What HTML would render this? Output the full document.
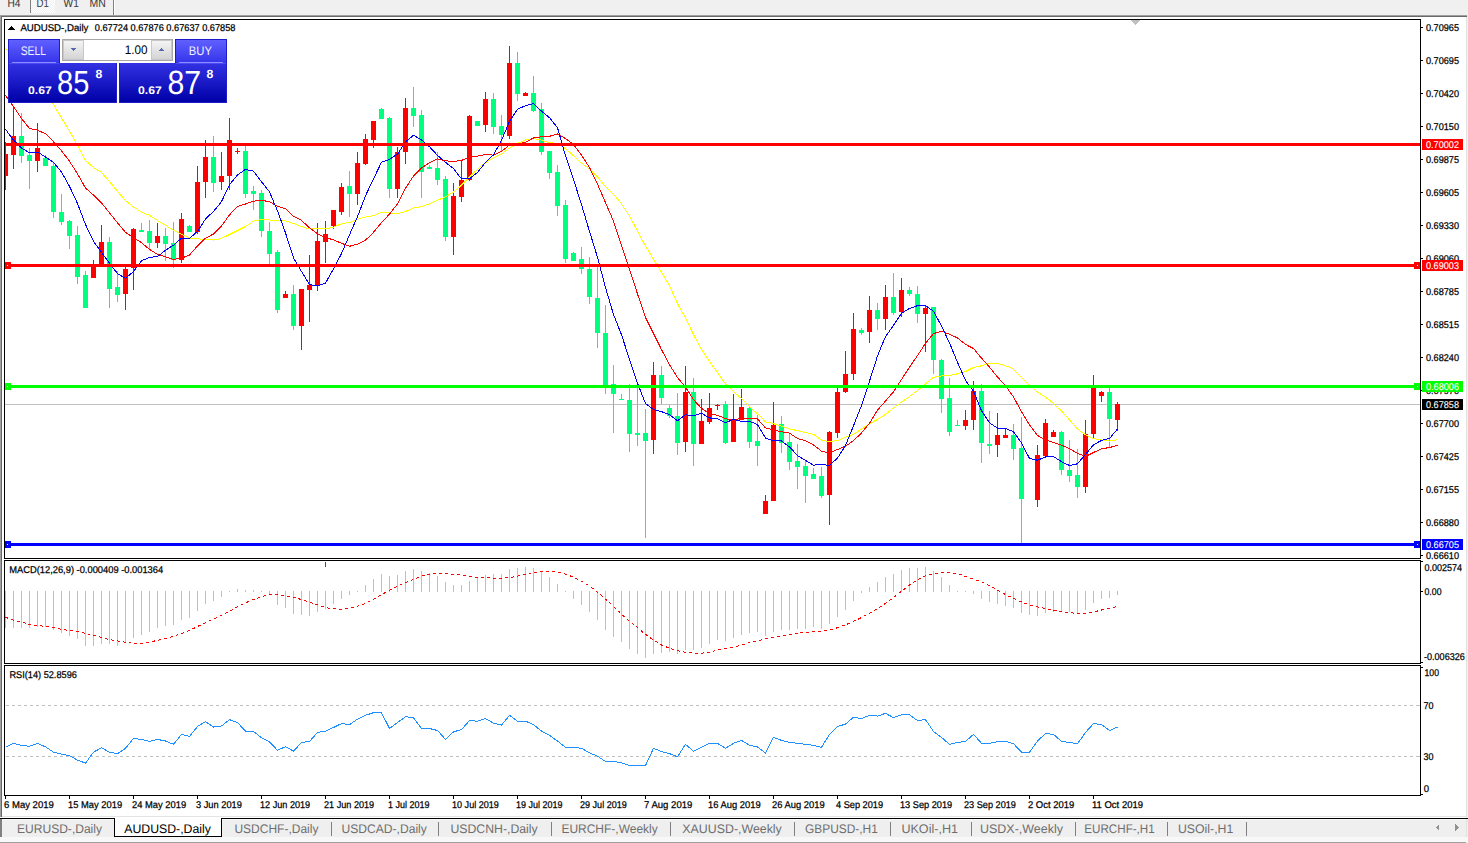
<!DOCTYPE html>
<html><head><meta charset="utf-8"><title>AUDUSD-,Daily</title>
<style>
html,body{margin:0;padding:0;background:#f0f0f0;overflow:hidden;}
svg{display:block;font-family:"Liberation Sans",sans-serif;text-rendering:geometricPrecision;}
</style></head>
<body>
<svg width="1468" height="843" viewBox="0 0 1468 843" shape-rendering="crispEdges">
<defs>
<pattern id="checker" x="0" y="0" width="2" height="2" patternUnits="userSpaceOnUse"><rect width="2" height="2" fill="#f0f0f0"/><rect width="1" height="1" fill="#ffffff"/><rect x="1" y="1" width="1" height="1" fill="#ffffff"/></pattern>
<pattern id="dash" x="6" y="0" width="6" height="1" patternUnits="userSpaceOnUse"><rect width="3" height="1" fill="#c0c0c0"/></pattern>
<clipPath id="clipMain"><rect x="5" y="20" width="1415" height="538"/></clipPath>
</defs>
<rect x="0" y="0" width="1468" height="843" fill="#f0f0f0"/>
<rect x="31" y="0" width="24" height="13" fill="url(#checker)"/>
<rect x="30" y="0" width="1" height="13" fill="#808080"/>
<rect x="113" y="0" width="1" height="15" fill="#808080"/>
<rect x="114" y="0" width="1" height="15" fill="#ffffff"/>
<text x="7.5" y="7" font-size="11.5" fill="#383838" textLength="13.00" lengthAdjust="spacingAndGlyphs">H4</text>
<text x="36.5" y="7" font-size="11.5" fill="#383838" textLength="12.30" lengthAdjust="spacingAndGlyphs">D1</text>
<text x="63.5" y="7" font-size="11.5" fill="#383838" textLength="15.30" lengthAdjust="spacingAndGlyphs">W1</text>
<text x="89.5" y="7" font-size="11.5" fill="#383838" textLength="16.30" lengthAdjust="spacingAndGlyphs">MN</text>
<rect x="0" y="15" width="1467" height="1" fill="#a0a0a0"/>
<rect x="1" y="16" width="1466" height="1" fill="#696969"/>
<rect x="0" y="15" width="1" height="802" fill="#a0a0a0"/>
<rect x="1" y="16" width="1" height="801" fill="#696969"/>
<rect x="2" y="17" width="1464" height="799" fill="#ffffff"/>
<rect x="1466" y="17" width="1" height="800" fill="#e3e3e3"/>
<rect x="2" y="816" width="1465" height="1" fill="#e3e3e3"/>
<g clip-path="url(#clipMain)">
<rect x="5" y="404" width="1415" height="1" fill="#c0c0c0"/>
<rect x="5" y="142" width="1" height="48" fill="#ff0000"/>
<rect x="3" y="154" width="5" height="22" fill="#ff0000"/>
<rect x="13" y="106" width="1" height="63" fill="#ff0000"/>
<rect x="11" y="136" width="5" height="19" fill="#ff0000"/>
<rect x="21" y="113" width="1" height="50" fill="#00ff7f"/>
<rect x="19" y="136" width="5" height="20" fill="#00ff7f"/>
<rect x="29" y="148" width="1" height="41" fill="#00ff7f"/>
<rect x="27" y="155" width="5" height="6" fill="#00ff7f"/>
<rect x="37" y="123" width="1" height="49" fill="#ff0000"/>
<rect x="35" y="148" width="5" height="13" fill="#ff0000"/>
<rect x="45" y="155" width="1" height="11" fill="#00ff7f"/>
<rect x="43" y="158" width="5" height="8" fill="#00ff7f"/>
<rect x="53" y="163" width="1" height="55" fill="#00ff7f"/>
<rect x="51" y="166" width="5" height="46" fill="#00ff7f"/>
<rect x="61" y="194" width="1" height="31" fill="#00ff7f"/>
<rect x="59" y="212" width="5" height="10" fill="#00ff7f"/>
<rect x="69" y="220" width="1" height="29" fill="#00ff7f"/>
<rect x="67" y="221" width="5" height="15" fill="#00ff7f"/>
<rect x="77" y="226" width="1" height="58" fill="#00ff7f"/>
<rect x="75" y="235" width="5" height="42" fill="#00ff7f"/>
<rect x="85" y="271" width="1" height="37" fill="#00ff7f"/>
<rect x="83" y="275" width="5" height="33" fill="#00ff7f"/>
<rect x="93" y="260" width="1" height="18" fill="#ff0000"/>
<rect x="91" y="266" width="5" height="12" fill="#ff0000"/>
<rect x="101" y="225" width="1" height="42" fill="#ff0000"/>
<rect x="99" y="242" width="5" height="25" fill="#ff0000"/>
<rect x="109" y="237" width="1" height="71" fill="#00ff7f"/>
<rect x="107" y="242" width="5" height="47" fill="#00ff7f"/>
<rect x="117" y="271" width="1" height="31" fill="#00ff7f"/>
<rect x="115" y="287" width="5" height="8" fill="#00ff7f"/>
<rect x="125" y="267" width="1" height="43" fill="#ff0000"/>
<rect x="123" y="269" width="5" height="25" fill="#ff0000"/>
<rect x="133" y="228" width="1" height="62" fill="#ff0000"/>
<rect x="131" y="229" width="5" height="39" fill="#ff0000"/>
<rect x="141" y="223" width="1" height="9" fill="#00ff7f"/>
<rect x="139" y="230" width="5" height="2" fill="#00ff7f"/>
<rect x="149" y="220" width="1" height="30" fill="#00ff7f"/>
<rect x="147" y="231" width="5" height="12" fill="#00ff7f"/>
<rect x="157" y="223" width="1" height="25" fill="#ff0000"/>
<rect x="155" y="236" width="5" height="7" fill="#ff0000"/>
<rect x="165" y="228" width="1" height="33" fill="#00ff7f"/>
<rect x="163" y="236" width="5" height="8" fill="#00ff7f"/>
<rect x="173" y="222" width="1" height="46" fill="#00ff7f"/>
<rect x="171" y="243" width="5" height="17" fill="#00ff7f"/>
<rect x="181" y="213" width="1" height="50" fill="#ff0000"/>
<rect x="179" y="219" width="5" height="41" fill="#ff0000"/>
<rect x="189" y="225" width="1" height="7" fill="#00ff7f"/>
<rect x="187" y="226" width="5" height="6" fill="#00ff7f"/>
<rect x="197" y="166" width="1" height="68" fill="#ff0000"/>
<rect x="195" y="182" width="5" height="50" fill="#ff0000"/>
<rect x="205" y="140" width="1" height="58" fill="#ff0000"/>
<rect x="203" y="157" width="5" height="25" fill="#ff0000"/>
<rect x="213" y="136" width="1" height="56" fill="#00ff7f"/>
<rect x="211" y="157" width="5" height="26" fill="#00ff7f"/>
<rect x="221" y="152" width="1" height="38" fill="#ff0000"/>
<rect x="219" y="176" width="5" height="6" fill="#ff0000"/>
<rect x="229" y="118" width="1" height="72" fill="#ff0000"/>
<rect x="227" y="140" width="5" height="36" fill="#ff0000"/>
<rect x="237" y="148" width="1" height="6" fill="#ff0000"/>
<rect x="235" y="151" width="5" height="1" fill="#ff0000"/>
<rect x="245" y="146" width="1" height="52" fill="#00ff7f"/>
<rect x="243" y="151" width="5" height="43" fill="#00ff7f"/>
<rect x="253" y="186" width="1" height="24" fill="#00ff7f"/>
<rect x="251" y="191" width="5" height="3" fill="#00ff7f"/>
<rect x="261" y="190" width="1" height="47" fill="#00ff7f"/>
<rect x="259" y="193" width="5" height="38" fill="#00ff7f"/>
<rect x="269" y="222" width="1" height="42" fill="#00ff7f"/>
<rect x="267" y="231" width="5" height="23" fill="#00ff7f"/>
<rect x="277" y="250" width="1" height="63" fill="#00ff7f"/>
<rect x="275" y="252" width="5" height="58" fill="#00ff7f"/>
<rect x="285" y="291" width="1" height="7" fill="#ff0000"/>
<rect x="283" y="294" width="5" height="4" fill="#ff0000"/>
<rect x="293" y="285" width="1" height="45" fill="#00ff7f"/>
<rect x="291" y="294" width="5" height="32" fill="#00ff7f"/>
<rect x="301" y="289" width="1" height="61" fill="#ff0000"/>
<rect x="299" y="289" width="5" height="37" fill="#ff0000"/>
<rect x="309" y="255" width="1" height="67" fill="#ff0000"/>
<rect x="307" y="285" width="5" height="5" fill="#ff0000"/>
<rect x="317" y="223" width="1" height="68" fill="#ff0000"/>
<rect x="315" y="241" width="5" height="44" fill="#ff0000"/>
<rect x="325" y="221" width="1" height="42" fill="#ff0000"/>
<rect x="323" y="234" width="5" height="8" fill="#ff0000"/>
<rect x="333" y="210" width="1" height="19" fill="#ff0000"/>
<rect x="331" y="210" width="5" height="16" fill="#ff0000"/>
<rect x="341" y="183" width="1" height="32" fill="#ff0000"/>
<rect x="339" y="187" width="5" height="25" fill="#ff0000"/>
<rect x="349" y="171" width="1" height="46" fill="#00ff7f"/>
<rect x="347" y="186" width="5" height="8" fill="#00ff7f"/>
<rect x="357" y="152" width="1" height="53" fill="#ff0000"/>
<rect x="355" y="163" width="5" height="31" fill="#ff0000"/>
<rect x="365" y="134" width="1" height="31" fill="#ff0000"/>
<rect x="363" y="139" width="5" height="25" fill="#ff0000"/>
<rect x="373" y="121" width="1" height="27" fill="#ff0000"/>
<rect x="371" y="121" width="5" height="19" fill="#ff0000"/>
<rect x="381" y="108" width="1" height="11" fill="#00ff7f"/>
<rect x="379" y="109" width="5" height="10" fill="#00ff7f"/>
<rect x="389" y="117" width="1" height="81" fill="#00ff7f"/>
<rect x="387" y="118" width="5" height="71" fill="#00ff7f"/>
<rect x="397" y="147" width="1" height="51" fill="#ff0000"/>
<rect x="395" y="152" width="5" height="37" fill="#ff0000"/>
<rect x="405" y="98" width="1" height="66" fill="#ff0000"/>
<rect x="403" y="108" width="5" height="44" fill="#ff0000"/>
<rect x="413" y="87" width="1" height="40" fill="#00ff7f"/>
<rect x="411" y="108" width="5" height="8" fill="#00ff7f"/>
<rect x="421" y="110" width="1" height="88" fill="#00ff7f"/>
<rect x="419" y="115" width="5" height="57" fill="#00ff7f"/>
<rect x="429" y="165" width="1" height="4" fill="#00ff7f"/>
<rect x="427" y="167" width="5" height="2" fill="#00ff7f"/>
<rect x="437" y="152" width="1" height="33" fill="#00ff7f"/>
<rect x="435" y="168" width="5" height="12" fill="#00ff7f"/>
<rect x="445" y="176" width="1" height="65" fill="#00ff7f"/>
<rect x="443" y="179" width="5" height="58" fill="#00ff7f"/>
<rect x="453" y="183" width="1" height="72" fill="#ff0000"/>
<rect x="451" y="196" width="5" height="41" fill="#ff0000"/>
<rect x="461" y="160" width="1" height="42" fill="#ff0000"/>
<rect x="459" y="180" width="5" height="17" fill="#ff0000"/>
<rect x="469" y="115" width="1" height="66" fill="#ff0000"/>
<rect x="467" y="116" width="5" height="64" fill="#ff0000"/>
<rect x="477" y="121" width="1" height="5" fill="#00ff7f"/>
<rect x="475" y="121" width="5" height="5" fill="#00ff7f"/>
<rect x="485" y="92" width="1" height="40" fill="#ff0000"/>
<rect x="483" y="99" width="5" height="26" fill="#ff0000"/>
<rect x="493" y="93" width="1" height="41" fill="#00ff7f"/>
<rect x="491" y="99" width="5" height="28" fill="#00ff7f"/>
<rect x="501" y="115" width="1" height="36" fill="#00ff7f"/>
<rect x="499" y="126" width="5" height="9" fill="#00ff7f"/>
<rect x="509" y="46" width="1" height="93" fill="#ff0000"/>
<rect x="507" y="63" width="5" height="73" fill="#ff0000"/>
<rect x="517" y="52" width="1" height="49" fill="#00ff7f"/>
<rect x="515" y="63" width="5" height="31" fill="#00ff7f"/>
<rect x="525" y="92" width="1" height="4" fill="#ff0000"/>
<rect x="523" y="93" width="5" height="3" fill="#ff0000"/>
<rect x="533" y="76" width="1" height="36" fill="#00ff7f"/>
<rect x="531" y="93" width="5" height="18" fill="#00ff7f"/>
<rect x="541" y="103" width="1" height="52" fill="#00ff7f"/>
<rect x="539" y="109" width="5" height="43" fill="#00ff7f"/>
<rect x="549" y="151" width="1" height="28" fill="#00ff7f"/>
<rect x="547" y="151" width="5" height="22" fill="#00ff7f"/>
<rect x="557" y="165" width="1" height="51" fill="#00ff7f"/>
<rect x="555" y="172" width="5" height="34" fill="#00ff7f"/>
<rect x="565" y="200" width="1" height="63" fill="#00ff7f"/>
<rect x="563" y="205" width="5" height="54" fill="#00ff7f"/>
<rect x="573" y="252" width="1" height="9" fill="#00ff7f"/>
<rect x="571" y="253" width="5" height="8" fill="#00ff7f"/>
<rect x="581" y="247" width="1" height="27" fill="#00ff7f"/>
<rect x="579" y="259" width="5" height="10" fill="#00ff7f"/>
<rect x="589" y="257" width="1" height="47" fill="#00ff7f"/>
<rect x="587" y="269" width="5" height="28" fill="#00ff7f"/>
<rect x="597" y="266" width="1" height="82" fill="#00ff7f"/>
<rect x="595" y="298" width="5" height="35" fill="#00ff7f"/>
<rect x="605" y="305" width="1" height="89" fill="#00ff7f"/>
<rect x="603" y="333" width="5" height="52" fill="#00ff7f"/>
<rect x="613" y="365" width="1" height="68" fill="#00ff7f"/>
<rect x="611" y="384" width="5" height="10" fill="#00ff7f"/>
<rect x="621" y="394" width="1" height="6" fill="#00ff7f"/>
<rect x="619" y="399" width="5" height="1" fill="#00ff7f"/>
<rect x="629" y="384" width="1" height="68" fill="#00ff7f"/>
<rect x="627" y="400" width="5" height="34" fill="#00ff7f"/>
<rect x="637" y="388" width="1" height="58" fill="#00ff7f"/>
<rect x="635" y="433" width="5" height="2" fill="#00ff7f"/>
<rect x="645" y="409" width="1" height="129" fill="#00ff7f"/>
<rect x="643" y="433" width="5" height="8" fill="#00ff7f"/>
<rect x="653" y="362" width="1" height="92" fill="#ff0000"/>
<rect x="651" y="375" width="5" height="65" fill="#ff0000"/>
<rect x="661" y="366" width="1" height="38" fill="#00ff7f"/>
<rect x="659" y="375" width="5" height="23" fill="#00ff7f"/>
<rect x="669" y="405" width="1" height="13" fill="#00ff7f"/>
<rect x="667" y="408" width="5" height="8" fill="#00ff7f"/>
<rect x="677" y="393" width="1" height="62" fill="#00ff7f"/>
<rect x="675" y="416" width="5" height="27" fill="#00ff7f"/>
<rect x="685" y="366" width="1" height="86" fill="#ff0000"/>
<rect x="683" y="392" width="5" height="50" fill="#ff0000"/>
<rect x="693" y="378" width="1" height="88" fill="#00ff7f"/>
<rect x="691" y="392" width="5" height="52" fill="#00ff7f"/>
<rect x="701" y="399" width="1" height="45" fill="#ff0000"/>
<rect x="699" y="421" width="5" height="23" fill="#ff0000"/>
<rect x="709" y="393" width="1" height="31" fill="#ff0000"/>
<rect x="707" y="408" width="5" height="14" fill="#ff0000"/>
<rect x="717" y="404" width="1" height="6" fill="#ff0000"/>
<rect x="715" y="405" width="5" height="1" fill="#ff0000"/>
<rect x="725" y="401" width="1" height="43" fill="#00ff7f"/>
<rect x="723" y="404" width="5" height="39" fill="#00ff7f"/>
<rect x="733" y="394" width="1" height="48" fill="#ff0000"/>
<rect x="731" y="420" width="5" height="22" fill="#ff0000"/>
<rect x="741" y="389" width="1" height="31" fill="#ff0000"/>
<rect x="739" y="407" width="5" height="13" fill="#ff0000"/>
<rect x="749" y="407" width="1" height="41" fill="#00ff7f"/>
<rect x="747" y="408" width="5" height="34" fill="#00ff7f"/>
<rect x="757" y="415" width="1" height="51" fill="#00ff7f"/>
<rect x="755" y="441" width="5" height="5" fill="#00ff7f"/>
<rect x="765" y="495" width="1" height="19" fill="#ff0000"/>
<rect x="763" y="501" width="5" height="13" fill="#ff0000"/>
<rect x="773" y="402" width="1" height="99" fill="#ff0000"/>
<rect x="771" y="425" width="5" height="76" fill="#ff0000"/>
<rect x="781" y="416" width="1" height="37" fill="#00ff7f"/>
<rect x="779" y="424" width="5" height="19" fill="#00ff7f"/>
<rect x="789" y="434" width="1" height="36" fill="#00ff7f"/>
<rect x="787" y="442" width="5" height="20" fill="#00ff7f"/>
<rect x="797" y="444" width="1" height="45" fill="#00ff7f"/>
<rect x="795" y="461" width="5" height="6" fill="#00ff7f"/>
<rect x="805" y="461" width="1" height="42" fill="#00ff7f"/>
<rect x="803" y="466" width="5" height="10" fill="#00ff7f"/>
<rect x="813" y="468" width="1" height="11" fill="#00ff7f"/>
<rect x="811" y="474" width="5" height="5" fill="#00ff7f"/>
<rect x="821" y="467" width="1" height="31" fill="#00ff7f"/>
<rect x="819" y="476" width="5" height="20" fill="#00ff7f"/>
<rect x="829" y="431" width="1" height="94" fill="#ff0000"/>
<rect x="827" y="432" width="5" height="63" fill="#ff0000"/>
<rect x="837" y="388" width="1" height="50" fill="#ff0000"/>
<rect x="835" y="392" width="5" height="41" fill="#ff0000"/>
<rect x="845" y="351" width="1" height="42" fill="#ff0000"/>
<rect x="843" y="374" width="5" height="18" fill="#ff0000"/>
<rect x="853" y="313" width="1" height="67" fill="#ff0000"/>
<rect x="851" y="329" width="5" height="45" fill="#ff0000"/>
<rect x="861" y="328" width="1" height="7" fill="#00ff7f"/>
<rect x="859" y="330" width="5" height="3" fill="#00ff7f"/>
<rect x="869" y="296" width="1" height="47" fill="#ff0000"/>
<rect x="867" y="310" width="5" height="22" fill="#ff0000"/>
<rect x="877" y="303" width="1" height="27" fill="#00ff7f"/>
<rect x="875" y="310" width="5" height="9" fill="#00ff7f"/>
<rect x="885" y="285" width="1" height="45" fill="#ff0000"/>
<rect x="883" y="297" width="5" height="22" fill="#ff0000"/>
<rect x="893" y="273" width="1" height="42" fill="#00ff7f"/>
<rect x="891" y="297" width="5" height="16" fill="#00ff7f"/>
<rect x="901" y="278" width="1" height="39" fill="#ff0000"/>
<rect x="899" y="290" width="5" height="22" fill="#ff0000"/>
<rect x="909" y="287" width="1" height="9" fill="#00ff7f"/>
<rect x="907" y="290" width="5" height="4" fill="#00ff7f"/>
<rect x="917" y="286" width="1" height="37" fill="#00ff7f"/>
<rect x="915" y="294" width="5" height="20" fill="#00ff7f"/>
<rect x="925" y="305" width="1" height="47" fill="#ff0000"/>
<rect x="923" y="308" width="5" height="6" fill="#ff0000"/>
<rect x="933" y="307" width="1" height="67" fill="#00ff7f"/>
<rect x="931" y="307" width="5" height="53" fill="#00ff7f"/>
<rect x="941" y="359" width="1" height="54" fill="#00ff7f"/>
<rect x="939" y="360" width="5" height="39" fill="#00ff7f"/>
<rect x="949" y="378" width="1" height="58" fill="#00ff7f"/>
<rect x="947" y="398" width="5" height="34" fill="#00ff7f"/>
<rect x="957" y="420" width="1" height="6" fill="#00ff7f"/>
<rect x="955" y="425" width="5" height="1" fill="#00ff7f"/>
<rect x="965" y="410" width="1" height="20" fill="#ff0000"/>
<rect x="963" y="420" width="5" height="6" fill="#ff0000"/>
<rect x="973" y="381" width="1" height="49" fill="#ff0000"/>
<rect x="971" y="391" width="5" height="29" fill="#ff0000"/>
<rect x="981" y="384" width="1" height="79" fill="#00ff7f"/>
<rect x="979" y="391" width="5" height="52" fill="#00ff7f"/>
<rect x="989" y="411" width="1" height="43" fill="#00ff7f"/>
<rect x="987" y="444" width="5" height="2" fill="#00ff7f"/>
<rect x="997" y="413" width="1" height="44" fill="#ff0000"/>
<rect x="995" y="435" width="5" height="10" fill="#ff0000"/>
<rect x="1005" y="429" width="1" height="9" fill="#ff0000"/>
<rect x="1003" y="435" width="5" height="3" fill="#ff0000"/>
<rect x="1013" y="424" width="1" height="36" fill="#00ff7f"/>
<rect x="1011" y="435" width="5" height="14" fill="#00ff7f"/>
<rect x="1021" y="417" width="1" height="127" fill="#00ff7f"/>
<rect x="1019" y="448" width="5" height="51" fill="#00ff7f"/>
<rect x="1037" y="445" width="1" height="62" fill="#ff0000"/>
<rect x="1035" y="455" width="5" height="45" fill="#ff0000"/>
<rect x="1045" y="419" width="1" height="37" fill="#ff0000"/>
<rect x="1043" y="423" width="5" height="33" fill="#ff0000"/>
<rect x="1053" y="430" width="1" height="7" fill="#ff0000"/>
<rect x="1051" y="432" width="5" height="5" fill="#ff0000"/>
<rect x="1061" y="431" width="1" height="44" fill="#00ff7f"/>
<rect x="1059" y="432" width="5" height="38" fill="#00ff7f"/>
<rect x="1069" y="440" width="1" height="42" fill="#00ff7f"/>
<rect x="1067" y="470" width="5" height="6" fill="#00ff7f"/>
<rect x="1077" y="449" width="1" height="49" fill="#00ff7f"/>
<rect x="1075" y="475" width="5" height="12" fill="#00ff7f"/>
<rect x="1085" y="420" width="1" height="73" fill="#ff0000"/>
<rect x="1083" y="434" width="5" height="53" fill="#ff0000"/>
<rect x="1093" y="375" width="1" height="63" fill="#ff0000"/>
<rect x="1091" y="388" width="5" height="46" fill="#ff0000"/>
<rect x="1101" y="391" width="1" height="11" fill="#ff0000"/>
<rect x="1099" y="392" width="5" height="4" fill="#ff0000"/>
<rect x="1109" y="388" width="1" height="59" fill="#00ff7f"/>
<rect x="1107" y="392" width="5" height="27" fill="#00ff7f"/>
<rect x="1117" y="402" width="1" height="29" fill="#ff0000"/>
<rect x="1115" y="404" width="5" height="16" fill="#ff0000"/>
<polyline points="5.5,48.1 53.5,104.5 61.5,118.0 69.5,131.1 77.5,145.3 85.5,160.5 93.5,167.5 101.5,172.5 109.5,181.5 117.5,191.5 125.5,200.5 133.5,207.0 141.5,212.0 149.5,215.3 157.5,220.5 165.5,225.2 173.5,230.3 181.5,234.3 189.5,237.9 197.5,238.9 205.5,239.3 213.5,240.1 221.5,238.4 229.5,234.5 237.5,230.5 245.5,226.5 253.5,221.1 261.5,219.4 269.5,219.9 277.5,220.9 285.5,220.9 293.5,223.6 301.5,226.5 309.5,229.0 317.5,228.9 325.5,228.8 333.5,227.2 341.5,223.7 349.5,222.5 357.5,219.2 365.5,217.2 373.5,215.5 381.5,212.4 389.5,213.0 397.5,213.6 405.5,211.5 413.5,207.8 421.5,206.7 429.5,203.8 437.5,200.3 445.5,196.8 453.5,192.1 461.5,185.2 469.5,176.9 477.5,169.4 485.5,162.6 493.5,157.5 501.5,154.0 509.5,148.1 517.5,143.3 525.5,140.0 533.5,138.6 541.5,140.1 549.5,142.7 557.5,143.4 565.5,148.6 573.5,155.8 581.5,163.1 589.5,169.1 597.5,177.0 605.5,186.7 613.5,194.2 621.5,203.9 629.5,216.0 637.5,231.2 645.5,246.2 653.5,259.3 661.5,272.3 669.5,285.6 677.5,303.7 685.5,317.9 693.5,334.6 701.5,349.4 709.5,361.6 717.5,372.6 725.5,383.9 733.5,391.6 741.5,398.6 749.5,406.8 757.5,413.8 765.5,421.8 773.5,423.7 781.5,426.1 789.5,429.0 797.5,430.6 805.5,432.5 813.5,434.3 821.5,440.1 829.5,441.7 837.5,440.5 845.5,437.3 853.5,434.3 861.5,429.0 869.5,423.7 877.5,419.5 885.5,414.3 893.5,408.1 901.5,402.0 909.5,396.6 917.5,390.5 925.5,383.9 933.5,377.2 941.5,376.0 949.5,375.5 957.5,373.8 965.5,371.5 973.5,367.5 981.5,365.8 989.5,363.4 997.5,363.5 1005.5,365.6 1013.5,369.2 1021.5,377.3 1029.5,385.2 1037.5,392.1 1045.5,397.1 1053.5,403.5 1061.5,411.0 1069.5,419.9 1077.5,429.1 1085.5,434.8 1093.5,438.6 1101.5,440.1 1109.5,441.1 1117.5,439.7" fill="none" stroke="#ffff00" stroke-width="1"/>
<polyline points="5.5,95.5 13.5,106.5 21.5,118.5 29.5,128.5 37.5,130.2 45.5,133.8 53.5,141.8 61.5,150.7 69.5,161.3 77.5,173.8 85.5,188.0 93.5,195.1 101.5,203.0 109.5,212.8 117.5,222.9 125.5,232.3 133.5,237.6 141.5,242.7 149.5,249.4 157.5,254.4 165.5,256.7 173.5,259.4 181.5,258.2 189.5,255.0 197.5,246.0 205.5,238.2 213.5,234.0 221.5,226.0 229.5,214.9 237.5,206.5 245.5,204.0 253.5,201.2 261.5,200.4 269.5,201.6 277.5,206.3 285.5,208.7 293.5,216.3 301.5,220.4 309.5,227.8 317.5,233.8 325.5,237.5 333.5,239.9 341.5,243.2 349.5,246.3 357.5,244.1 365.5,240.2 373.5,232.3 381.5,222.7 389.5,214.0 397.5,203.9 405.5,188.3 413.5,176.0 421.5,167.9 429.5,162.7 437.5,158.8 445.5,160.8 453.5,161.4 461.5,160.4 469.5,157.1 477.5,156.1 485.5,154.6 493.5,155.1 501.5,151.3 509.5,145.0 517.5,144.0 525.5,142.3 533.5,138.0 541.5,136.8 549.5,136.3 557.5,134.0 565.5,138.5 573.5,144.3 581.5,155.2 589.5,167.5 597.5,184.2 605.5,202.6 613.5,221.1 621.5,245.2 629.5,269.5 637.5,293.9 645.5,317.5 653.5,333.4 661.5,349.6 669.5,364.6 677.5,377.7 685.5,387.1 693.5,399.6 701.5,408.4 709.5,413.7 717.5,415.2 725.5,418.7 733.5,420.1 741.5,418.1 749.5,418.6 757.5,419.0 765.5,427.9 773.5,429.8 781.5,431.8 789.5,433.1 797.5,438.5 805.5,440.8 813.5,444.9 821.5,451.2 829.5,453.1 837.5,449.5 845.5,446.2 853.5,440.7 861.5,432.9 869.5,423.2 877.5,410.2 885.5,401.0 893.5,391.8 901.5,379.5 909.5,367.1 917.5,355.6 925.5,343.3 933.5,333.6 941.5,331.2 949.5,334.2 957.5,337.9 965.5,344.4 973.5,348.5 981.5,358.1 989.5,367.1 997.5,377.0 1005.5,385.7 1013.5,397.0 1021.5,411.7 1029.5,424.9 1037.5,435.5 1045.5,440.0 1053.5,442.4 1061.5,445.1 1069.5,448.6 1077.5,453.4 1085.5,456.5 1093.5,452.5 1101.5,448.7 1109.5,447.6 1117.5,445.3" fill="none" stroke="#ff0000" stroke-width="1"/>
<polyline points="5.5,129.3 13.5,140.0 21.5,148.0 29.5,152.8 37.5,152.1 45.5,156.9 53.5,162.4 61.5,172.1 69.5,186.3 77.5,203.5 85.5,224.5 93.5,241.4 101.5,252.3 109.5,263.2 117.5,273.6 125.5,278.4 133.5,271.6 141.5,260.8 149.5,257.4 157.5,256.6 165.5,250.2 173.5,245.2 181.5,238.1 189.5,238.5 197.5,231.3 205.5,219.0 213.5,211.4 221.5,201.7 229.5,184.6 237.5,174.9 245.5,169.4 253.5,171.1 261.5,181.7 269.5,191.9 277.5,210.9 285.5,232.9 293.5,257.8 301.5,271.5 309.5,284.5 317.5,285.9 325.5,283.1 333.5,268.8 341.5,253.6 349.5,234.8 357.5,216.7 365.5,195.8 373.5,178.8 381.5,162.3 389.5,159.3 397.5,154.2 405.5,141.9 413.5,135.2 421.5,139.9 429.5,146.7 437.5,155.4 445.5,162.3 453.5,168.6 461.5,178.9 469.5,178.9 477.5,172.4 485.5,162.4 493.5,154.9 501.5,140.4 509.5,121.3 517.5,109.1 525.5,105.8 533.5,103.6 541.5,111.1 549.5,117.7 557.5,127.7 565.5,155.8 573.5,179.5 581.5,204.7 589.5,231.4 597.5,257.3 605.5,287.6 613.5,314.5 621.5,334.7 629.5,359.4 637.5,383.1 645.5,403.6 653.5,409.6 661.5,411.6 669.5,414.7 677.5,420.7 685.5,414.7 693.5,416.0 701.5,413.2 709.5,417.9 717.5,418.8 725.5,422.6 733.5,419.4 741.5,421.5 749.5,421.2 757.5,424.7 765.5,438.0 773.5,440.9 781.5,440.9 789.5,446.9 797.5,455.5 805.5,460.4 813.5,465.1 821.5,464.5 829.5,465.4 837.5,458.1 845.5,445.5 853.5,425.8 861.5,405.4 869.5,381.2 877.5,355.9 885.5,336.6 893.5,325.4 901.5,313.4 909.5,308.4 917.5,305.7 925.5,305.5 933.5,311.3 941.5,325.9 949.5,342.9 957.5,362.4 965.5,380.4 973.5,391.3 981.5,410.7 989.5,422.9 997.5,428.1 1005.5,428.5 1013.5,431.7 1021.5,443.0 1029.5,458.5 1037.5,460.2 1045.5,457.0 1053.5,456.6 1061.5,461.7 1069.5,465.5 1077.5,463.8 1085.5,454.4 1093.5,444.8 1101.5,440.4 1109.5,438.5 1117.5,429.0" fill="none" stroke="#0000ff" stroke-width="1"/>
</g>
<rect x="5" y="143" width="1415" height="3" fill="#ff0000"/>
<rect x="5" y="264" width="1415" height="3" fill="#ff0000"/>
<rect x="4" y="262" width="7" height="7" fill="#ff0000"/>
<rect x="7" y="265" width="1" height="1" fill="#ffffff"/>
<rect x="1414" y="262" width="7" height="7" fill="#ff0000"/>
<rect x="1417" y="265" width="1" height="1" fill="#ffffff"/>
<rect x="5" y="385" width="1415" height="3" fill="#00ff00"/>
<rect x="4" y="383" width="7" height="7" fill="#00ff00"/>
<rect x="7" y="386" width="1" height="1" fill="#ffffff"/>
<rect x="1414" y="383" width="7" height="7" fill="#00ff00"/>
<rect x="1417" y="386" width="1" height="1" fill="#ffffff"/>
<rect x="5" y="543" width="1415" height="3" fill="#0000ff"/>
<rect x="4" y="541" width="7" height="7" fill="#0000ff"/>
<rect x="7" y="544" width="1" height="1" fill="#ffffff"/>
<rect x="1414" y="541" width="7" height="7" fill="#0000ff"/>
<rect x="1417" y="544" width="1" height="1" fill="#ffffff"/>
<polygon points="1131,20 1140,20 1135.5,25" fill="#c0c0c0"/>
<polygon points="8,30 15.5,30 11.75,26" fill="#000"/>
<text x="20.4" y="31" font-size="9.8" fill="#000" stroke="#000" stroke-width="0.25" textLength="68.00" lengthAdjust="spacingAndGlyphs">AUDUSD-,Daily</text>
<text x="94.8" y="31" font-size="9.8" fill="#000" stroke="#000" stroke-width="0.25" textLength="140.60" lengthAdjust="spacingAndGlyphs">0.67724 0.67876 0.67637 0.67858</text>
<defs>
<linearGradient id="gBtn" x1="0" y1="0" x2="0" y2="1"><stop offset="0" stop-color="#6060ff"/><stop offset="1" stop-color="#3434ea"/></linearGradient>
<linearGradient id="gPan" x1="0" y1="0" x2="0" y2="1"><stop offset="0" stop-color="#3232e4"/><stop offset="1" stop-color="#0000a8"/></linearGradient>
<linearGradient id="gSpin" x1="0" y1="0" x2="0" y2="1"><stop offset="0" stop-color="#f4f4f4"/><stop offset="1" stop-color="#d4d4d4"/></linearGradient>
</defs>
<rect x="8" y="39" width="52" height="24" fill="#1c1cc8"/>
<rect x="9" y="40" width="50" height="23" fill="url(#gBtn)"/>
<rect x="8" y="63" width="109" height="40" fill="#1c1cc8"/>
<rect x="9" y="63" width="107" height="39" fill="url(#gPan)"/>
<rect x="9" y="63" width="50" height="1" fill="url(#gBtn)"/>
<rect x="12" y="62" width="44" height="1" fill="#8c8cff"/>
<rect x="175" y="39" width="52" height="24" fill="#1c1cc8"/>
<rect x="176" y="40" width="50" height="23" fill="url(#gBtn)"/>
<rect x="119" y="63" width="108" height="40" fill="#1c1cc8"/>
<rect x="120" y="63" width="106" height="39" fill="url(#gPan)"/>
<rect x="176" y="63" width="50" height="1" fill="url(#gBtn)"/>
<rect x="179" y="62" width="44" height="1" fill="#8c8cff"/>
<rect x="62" y="39" width="111" height="22" fill="#a8a8a8"/>
<rect x="63" y="40" width="109" height="20" fill="#ffffff"/>
<rect x="63" y="40" width="21" height="20" fill="#c8c8c8"/>
<rect x="64" y="41" width="19" height="18" fill="url(#gSpin)"/>
<rect x="151" y="40" width="21" height="20" fill="#c8c8c8"/>
<rect x="152" y="41" width="19" height="18" fill="url(#gSpin)"/>
<polygon points="70,48 76,48 73,51" fill="#5868b0"/>
<polygon points="158.5,51 164.5,51 161.5,48" fill="#5868b0"/>
<text x="124.7" y="54" font-size="12.5" fill="#000" textLength="22.80" lengthAdjust="spacingAndGlyphs">1.00</text>
<text x="20.7" y="55" font-size="12.5" fill="#f0f0ff" textLength="25.30" lengthAdjust="spacingAndGlyphs">SELL</text>
<text x="188.8" y="55" font-size="12.5" fill="#f0f0ff" textLength="23.20" lengthAdjust="spacingAndGlyphs">BUY</text>
<text x="28" y="94" font-size="11" fill="#fff" font-weight="bold" textLength="23.80" lengthAdjust="spacingAndGlyphs">0.67</text>
<text x="57" y="94" font-size="33.5" fill="#fff" textLength="32.30" lengthAdjust="spacingAndGlyphs">85</text>
<text x="95.4" y="78" font-size="12" fill="#fff" font-weight="bold" textLength="6.80" lengthAdjust="spacingAndGlyphs">8</text>
<text x="138" y="94" font-size="11" fill="#fff" font-weight="bold" textLength="23.80" lengthAdjust="spacingAndGlyphs">0.67</text>
<text x="167.5" y="94" font-size="33.5" fill="#fff" textLength="33.70" lengthAdjust="spacingAndGlyphs">87</text>
<text x="206.4" y="78" font-size="12" fill="#fff" font-weight="bold" textLength="6.80" lengthAdjust="spacingAndGlyphs">8</text>
<g shape-rendering="crispEdges">
<rect x="5" y="591" width="1" height="37" fill="#c0c0c0"/>
<rect x="13" y="591" width="1" height="37" fill="#c0c0c0"/>
<rect x="21" y="591" width="1" height="37" fill="#c0c0c0"/>
<rect x="29" y="591" width="1" height="37" fill="#c0c0c0"/>
<rect x="37" y="591" width="1" height="36" fill="#c0c0c0"/>
<rect x="45" y="591" width="1" height="36" fill="#c0c0c0"/>
<rect x="53" y="591" width="1" height="39" fill="#c0c0c0"/>
<rect x="61" y="591" width="1" height="42" fill="#c0c0c0"/>
<rect x="69" y="591" width="1" height="45" fill="#c0c0c0"/>
<rect x="77" y="591" width="1" height="48" fill="#c0c0c0"/>
<rect x="85" y="591" width="1" height="55" fill="#c0c0c0"/>
<rect x="93" y="591" width="1" height="55" fill="#c0c0c0"/>
<rect x="101" y="591" width="1" height="53" fill="#c0c0c0"/>
<rect x="109" y="591" width="1" height="53" fill="#c0c0c0"/>
<rect x="117" y="591" width="1" height="55" fill="#c0c0c0"/>
<rect x="125" y="591" width="1" height="51" fill="#c0c0c0"/>
<rect x="133" y="591" width="1" height="47" fill="#c0c0c0"/>
<rect x="141" y="591" width="1" height="44" fill="#c0c0c0"/>
<rect x="149" y="591" width="1" height="41" fill="#c0c0c0"/>
<rect x="157" y="591" width="1" height="37" fill="#c0c0c0"/>
<rect x="165" y="591" width="1" height="35" fill="#c0c0c0"/>
<rect x="173" y="591" width="1" height="34" fill="#c0c0c0"/>
<rect x="181" y="591" width="1" height="29" fill="#c0c0c0"/>
<rect x="189" y="591" width="1" height="27" fill="#c0c0c0"/>
<rect x="197" y="591" width="1" height="20" fill="#c0c0c0"/>
<rect x="205" y="591" width="1" height="13" fill="#c0c0c0"/>
<rect x="213" y="591" width="1" height="10" fill="#c0c0c0"/>
<rect x="221" y="591" width="1" height="6" fill="#c0c0c0"/>
<rect x="229" y="591" width="1" height="1" fill="#c0c0c0"/>
<rect x="237" y="589" width="1" height="3" fill="#c0c0c0"/>
<rect x="245" y="590" width="1" height="2" fill="#c0c0c0"/>
<rect x="253" y="590" width="1" height="2" fill="#c0c0c0"/>
<rect x="261" y="591" width="1" height="1" fill="#c0c0c0"/>
<rect x="269" y="591" width="1" height="4" fill="#c0c0c0"/>
<rect x="277" y="591" width="1" height="14" fill="#c0c0c0"/>
<rect x="285" y="591" width="1" height="17" fill="#c0c0c0"/>
<rect x="293" y="591" width="1" height="23" fill="#c0c0c0"/>
<rect x="301" y="591" width="1" height="24" fill="#c0c0c0"/>
<rect x="309" y="591" width="1" height="25" fill="#c0c0c0"/>
<rect x="317" y="591" width="1" height="21" fill="#c0c0c0"/>
<rect x="325" y="591" width="1" height="18" fill="#c0c0c0"/>
<rect x="333" y="591" width="1" height="13" fill="#c0c0c0"/>
<rect x="341" y="591" width="1" height="8" fill="#c0c0c0"/>
<rect x="349" y="591" width="1" height="4" fill="#c0c0c0"/>
<rect x="357" y="591" width="1" height="1" fill="#c0c0c0"/>
<rect x="365" y="585" width="1" height="7" fill="#c0c0c0"/>
<rect x="373" y="579" width="1" height="13" fill="#c0c0c0"/>
<rect x="381" y="574" width="1" height="18" fill="#c0c0c0"/>
<rect x="389" y="576" width="1" height="16" fill="#c0c0c0"/>
<rect x="397" y="575" width="1" height="17" fill="#c0c0c0"/>
<rect x="405" y="571" width="1" height="21" fill="#c0c0c0"/>
<rect x="413" y="569" width="1" height="23" fill="#c0c0c0"/>
<rect x="421" y="571" width="1" height="21" fill="#c0c0c0"/>
<rect x="429" y="573" width="1" height="19" fill="#c0c0c0"/>
<rect x="437" y="576" width="1" height="16" fill="#c0c0c0"/>
<rect x="445" y="582" width="1" height="10" fill="#c0c0c0"/>
<rect x="453" y="585" width="1" height="7" fill="#c0c0c0"/>
<rect x="461" y="585" width="1" height="7" fill="#c0c0c0"/>
<rect x="469" y="581" width="1" height="11" fill="#c0c0c0"/>
<rect x="477" y="578" width="1" height="14" fill="#c0c0c0"/>
<rect x="485" y="575" width="1" height="17" fill="#c0c0c0"/>
<rect x="493" y="574" width="1" height="18" fill="#c0c0c0"/>
<rect x="501" y="574" width="1" height="18" fill="#c0c0c0"/>
<rect x="509" y="569" width="1" height="23" fill="#c0c0c0"/>
<rect x="517" y="568" width="1" height="24" fill="#c0c0c0"/>
<rect x="525" y="567" width="1" height="25" fill="#c0c0c0"/>
<rect x="533" y="568" width="1" height="24" fill="#c0c0c0"/>
<rect x="541" y="571" width="1" height="21" fill="#c0c0c0"/>
<rect x="549" y="577" width="1" height="15" fill="#c0c0c0"/>
<rect x="557" y="584" width="1" height="8" fill="#c0c0c0"/>
<rect x="565" y="591" width="1" height="1" fill="#c0c0c0"/>
<rect x="573" y="591" width="1" height="8" fill="#c0c0c0"/>
<rect x="581" y="591" width="1" height="14" fill="#c0c0c0"/>
<rect x="589" y="591" width="1" height="21" fill="#c0c0c0"/>
<rect x="597" y="591" width="1" height="29" fill="#c0c0c0"/>
<rect x="605" y="591" width="1" height="39" fill="#c0c0c0"/>
<rect x="613" y="591" width="1" height="46" fill="#c0c0c0"/>
<rect x="621" y="591" width="1" height="51" fill="#c0c0c0"/>
<rect x="629" y="591" width="1" height="58" fill="#c0c0c0"/>
<rect x="637" y="591" width="1" height="63" fill="#c0c0c0"/>
<rect x="645" y="591" width="1" height="67" fill="#c0c0c0"/>
<rect x="653" y="591" width="1" height="63" fill="#c0c0c0"/>
<rect x="661" y="591" width="1" height="62" fill="#c0c0c0"/>
<rect x="669" y="591" width="1" height="61" fill="#c0c0c0"/>
<rect x="677" y="591" width="1" height="63" fill="#c0c0c0"/>
<rect x="685" y="591" width="1" height="59" fill="#c0c0c0"/>
<rect x="693" y="591" width="1" height="59" fill="#c0c0c0"/>
<rect x="701" y="591" width="1" height="57" fill="#c0c0c0"/>
<rect x="709" y="591" width="1" height="53" fill="#c0c0c0"/>
<rect x="717" y="591" width="1" height="49" fill="#c0c0c0"/>
<rect x="725" y="591" width="1" height="50" fill="#c0c0c0"/>
<rect x="733" y="591" width="1" height="47" fill="#c0c0c0"/>
<rect x="741" y="591" width="1" height="44" fill="#c0c0c0"/>
<rect x="749" y="591" width="1" height="42" fill="#c0c0c0"/>
<rect x="757" y="591" width="1" height="41" fill="#c0c0c0"/>
<rect x="765" y="591" width="1" height="45" fill="#c0c0c0"/>
<rect x="773" y="591" width="1" height="41" fill="#c0c0c0"/>
<rect x="781" y="591" width="1" height="39" fill="#c0c0c0"/>
<rect x="789" y="591" width="1" height="39" fill="#c0c0c0"/>
<rect x="797" y="591" width="1" height="38" fill="#c0c0c0"/>
<rect x="805" y="591" width="1" height="38" fill="#c0c0c0"/>
<rect x="813" y="591" width="1" height="36" fill="#c0c0c0"/>
<rect x="821" y="591" width="1" height="38" fill="#c0c0c0"/>
<rect x="829" y="591" width="1" height="33" fill="#c0c0c0"/>
<rect x="837" y="591" width="1" height="26" fill="#c0c0c0"/>
<rect x="845" y="591" width="1" height="19" fill="#c0c0c0"/>
<rect x="853" y="591" width="1" height="10" fill="#c0c0c0"/>
<rect x="861" y="591" width="1" height="2" fill="#c0c0c0"/>
<rect x="869" y="587" width="1" height="5" fill="#c0c0c0"/>
<rect x="877" y="582" width="1" height="10" fill="#c0c0c0"/>
<rect x="885" y="577" width="1" height="15" fill="#c0c0c0"/>
<rect x="893" y="574" width="1" height="18" fill="#c0c0c0"/>
<rect x="901" y="570" width="1" height="22" fill="#c0c0c0"/>
<rect x="909" y="568" width="1" height="24" fill="#c0c0c0"/>
<rect x="917" y="568" width="1" height="24" fill="#c0c0c0"/>
<rect x="925" y="567" width="1" height="25" fill="#c0c0c0"/>
<rect x="933" y="571" width="1" height="21" fill="#c0c0c0"/>
<rect x="941" y="577" width="1" height="15" fill="#c0c0c0"/>
<rect x="949" y="585" width="1" height="7" fill="#c0c0c0"/>
<rect x="957" y="591" width="1" height="1" fill="#c0c0c0"/>
<rect x="965" y="591" width="1" height="1" fill="#c0c0c0"/>
<rect x="973" y="591" width="1" height="3" fill="#c0c0c0"/>
<rect x="981" y="591" width="1" height="8" fill="#c0c0c0"/>
<rect x="989" y="591" width="1" height="11" fill="#c0c0c0"/>
<rect x="997" y="591" width="1" height="13" fill="#c0c0c0"/>
<rect x="1005" y="591" width="1" height="15" fill="#c0c0c0"/>
<rect x="1013" y="591" width="1" height="17" fill="#c0c0c0"/>
<rect x="1021" y="591" width="1" height="22" fill="#c0c0c0"/>
<rect x="1029" y="591" width="1" height="24" fill="#c0c0c0"/>
<rect x="1037" y="591" width="1" height="25" fill="#c0c0c0"/>
<rect x="1045" y="591" width="1" height="22" fill="#c0c0c0"/>
<rect x="1053" y="591" width="1" height="21" fill="#c0c0c0"/>
<rect x="1061" y="591" width="1" height="21" fill="#c0c0c0"/>
<rect x="1069" y="591" width="1" height="21" fill="#c0c0c0"/>
<rect x="1077" y="591" width="1" height="23" fill="#c0c0c0"/>
<rect x="1085" y="591" width="1" height="19" fill="#c0c0c0"/>
<rect x="1093" y="591" width="1" height="12" fill="#c0c0c0"/>
<rect x="1101" y="591" width="1" height="8" fill="#c0c0c0"/>
<rect x="1109" y="591" width="1" height="7" fill="#c0c0c0"/>
<rect x="1117" y="591" width="1" height="4" fill="#c0c0c0"/>
</g>
<polyline points="5.5,617.3 13.5,620.2 21.5,622.2 29.5,624.3 37.5,625.5 45.5,626.4 53.5,627.2 61.5,629.5 69.5,630.4 77.5,631.2 85.5,633.5 93.5,635.3 101.5,637.3 109.5,639.6 117.5,640.9 125.5,642.3 133.5,643.4 141.5,643.3 149.5,642.0 157.5,640.4 165.5,638.3 173.5,636.3 181.5,633.5 189.5,630.4 197.5,626.5 205.5,622.7 213.5,619.0 221.5,615.4 229.5,611.2 237.5,606.8 245.5,602.8 253.5,599.5 261.5,596.6 269.5,594.9 277.5,594.4 285.5,595.9 293.5,597.2 301.5,599.6 309.5,602.1 317.5,604.9 325.5,607.5 333.5,608.9 341.5,609.3 349.5,608.2 357.5,606.3 365.5,603.3 373.5,599.3 381.5,594.8 389.5,590.2 397.5,586.2 405.5,582.6 413.5,579.6 421.5,576.1 429.5,574.2 437.5,573.3 445.5,573.2 453.5,574.5 461.5,575.1 469.5,576.2 477.5,577.4 485.5,577.4 493.5,578.4 501.5,578.2 509.5,577.5 517.5,576.2 525.5,574.3 533.5,572.5 541.5,571.4 549.5,571.4 557.5,572.1 565.5,574.2 573.5,577.1 581.5,581.3 589.5,585.9 597.5,592.2 605.5,599.2 613.5,606.4 621.5,614.1 629.5,621.2 637.5,627.6 645.5,634.4 653.5,640.0 661.5,645.0 669.5,648.2 677.5,650.8 685.5,652.2 693.5,653.2 701.5,653.2 709.5,652.3 717.5,650.0 725.5,648.7 733.5,647.4 741.5,645.0 749.5,642.7 757.5,641.2 765.5,638.7 773.5,637.6 781.5,636.3 789.5,634.6 797.5,633.1 805.5,632.2 813.5,631.9 821.5,631.5 829.5,630.1 837.5,627.7 845.5,624.9 853.5,621.4 861.5,617.5 869.5,613.2 877.5,608.6 885.5,603.3 893.5,597.5 901.5,591.2 909.5,585.1 917.5,579.7 925.5,575.7 933.5,573.5 941.5,572.6 949.5,572.7 957.5,573.6 965.5,576.4 973.5,579.1 981.5,581.9 989.5,585.6 997.5,590.1 1005.5,594.6 1013.5,598.5 1021.5,601.9 1029.5,604.9 1037.5,606.9 1045.5,608.5 1053.5,610.0 1061.5,611.4 1069.5,612.7 1077.5,613.4 1085.5,613.2 1093.5,612.0 1101.5,610.0 1109.5,608.5 1117.5,606.3" fill="none" stroke="#ff0000" stroke-width="1" stroke-dasharray="3,3" shape-rendering="crispEdges"/>
<rect x="325" y="562" width="1" height="5" fill="#ff0000"/>
<text x="9.2" y="573" font-size="9.8" fill="#000" stroke="#000" stroke-width="0.25" textLength="154.00" lengthAdjust="spacingAndGlyphs">MACD(12,26,9) -0.000409 -0.001364</text>
<g shape-rendering="crispEdges">
<rect x="5" y="705" width="1415" height="1" fill="url(#dash)"/>
<rect x="5" y="756" width="1415" height="1" fill="url(#dash)"/>
</g>
<polyline points="5.5,747.3 13.5,743.3 21.5,745.3 29.5,746.3 37.5,743.3 45.5,746.9 53.5,752.2 61.5,754.2 69.5,755.6 77.5,760.1 85.5,763.1 93.5,752.2 101.5,747.7 109.5,752.2 117.5,753.6 125.5,748.3 133.5,738.4 141.5,739.4 149.5,741.4 157.5,739.4 165.5,741.0 173.5,744.3 181.5,734.4 189.5,736.4 197.5,726.5 205.5,721.6 213.5,727.1 221.5,726.0 229.5,719.6 237.5,722.6 245.5,731.1 253.5,731.5 261.5,737.8 269.5,741.8 277.5,750.3 285.5,746.6 293.5,751.2 301.5,742.4 309.5,741.4 317.5,732.5 325.5,731.1 333.5,727.5 341.5,723.6 349.5,724.6 357.5,719.2 365.5,715.3 373.5,712.7 381.5,712.7 389.5,728.5 397.5,722.6 405.5,716.7 413.5,717.7 421.5,728.5 429.5,728.5 437.5,730.5 445.5,739.4 453.5,731.9 461.5,729.5 469.5,720.6 477.5,721.2 485.5,718.6 493.5,723.2 501.5,725.2 509.5,715.3 517.5,721.2 525.5,721.2 533.5,724.6 541.5,731.1 549.5,735.4 557.5,741.0 565.5,747.3 573.5,747.3 581.5,748.3 589.5,752.8 597.5,756.2 605.5,761.5 613.5,761.5 621.5,762.7 629.5,765.5 637.5,765.5 645.5,765.5 653.5,748.3 661.5,751.6 669.5,753.6 677.5,756.8 685.5,744.3 693.5,751.2 701.5,747.3 709.5,743.3 717.5,743.3 725.5,748.3 733.5,743.3 741.5,740.4 749.5,745.3 757.5,746.9 765.5,753.2 773.5,737.4 781.5,740.4 789.5,742.4 797.5,743.3 805.5,744.3 813.5,745.3 821.5,747.3 829.5,734.4 837.5,726.5 845.5,724.1 853.5,717.3 861.5,718.6 869.5,715.3 877.5,716.1 885.5,713.3 893.5,717.7 901.5,714.7 909.5,714.7 917.5,720.6 925.5,719.6 933.5,731.5 941.5,737.4 949.5,744.3 957.5,742.4 965.5,741.4 973.5,734.4 981.5,743.3 989.5,743.3 997.5,741.8 1005.5,741.4 1013.5,743.7 1021.5,752.2 1029.5,752.2 1037.5,741.0 1045.5,733.5 1053.5,734.4 1061.5,741.4 1069.5,742.4 1077.5,743.7 1085.5,732.5 1093.5,723.6 1101.5,724.6 1109.5,730.5 1117.5,727.1" fill="none" stroke="#1e90ff" stroke-width="1" shape-rendering="crispEdges"/>
<text x="9.4" y="678" font-size="9.8" fill="#000" stroke="#000" stroke-width="0.25" textLength="67.50" lengthAdjust="spacingAndGlyphs">RSI(14) 52.8596</text>
<rect x="4" y="19" width="1417" height="1" fill="#000"/>
<rect x="4" y="558" width="1417" height="1" fill="#000"/>
<rect x="4" y="19" width="1" height="540" fill="#000"/>
<rect x="1420" y="19" width="1" height="540" fill="#000"/>
<rect x="4" y="560" width="1417" height="1" fill="#000"/>
<rect x="4" y="663" width="1417" height="1" fill="#000"/>
<rect x="4" y="560" width="1" height="104" fill="#000"/>
<rect x="1420" y="560" width="1" height="104" fill="#000"/>
<rect x="4" y="665" width="1417" height="1" fill="#000"/>
<rect x="4" y="795" width="1417" height="1" fill="#000"/>
<rect x="4" y="665" width="1" height="131" fill="#000"/>
<rect x="1420" y="665" width="1" height="131" fill="#000"/>
<rect x="1421" y="27" width="2" height="1" fill="#000"/>
<text x="1426" y="31" font-size="9.8" fill="#000" stroke="#000" stroke-width="0.25" textLength="33.00" lengthAdjust="spacingAndGlyphs">0.70965</text>
<rect x="1421" y="60" width="2" height="1" fill="#000"/>
<text x="1426" y="64" font-size="9.8" fill="#000" stroke="#000" stroke-width="0.25" textLength="33.00" lengthAdjust="spacingAndGlyphs">0.70695</text>
<rect x="1421" y="93" width="2" height="1" fill="#000"/>
<text x="1426" y="97" font-size="9.8" fill="#000" stroke="#000" stroke-width="0.25" textLength="33.00" lengthAdjust="spacingAndGlyphs">0.70420</text>
<rect x="1421" y="126" width="2" height="1" fill="#000"/>
<text x="1426" y="130" font-size="9.8" fill="#000" stroke="#000" stroke-width="0.25" textLength="33.00" lengthAdjust="spacingAndGlyphs">0.70150</text>
<rect x="1421" y="159" width="2" height="1" fill="#000"/>
<text x="1426" y="163" font-size="9.8" fill="#000" stroke="#000" stroke-width="0.25" textLength="33.00" lengthAdjust="spacingAndGlyphs">0.69875</text>
<rect x="1421" y="192" width="2" height="1" fill="#000"/>
<text x="1426" y="196" font-size="9.8" fill="#000" stroke="#000" stroke-width="0.25" textLength="33.00" lengthAdjust="spacingAndGlyphs">0.69605</text>
<rect x="1421" y="225" width="2" height="1" fill="#000"/>
<text x="1426" y="229" font-size="9.8" fill="#000" stroke="#000" stroke-width="0.25" textLength="33.00" lengthAdjust="spacingAndGlyphs">0.69330</text>
<rect x="1421" y="258" width="2" height="1" fill="#000"/>
<text x="1426" y="262" font-size="9.8" fill="#000" stroke="#000" stroke-width="0.25" textLength="33.00" lengthAdjust="spacingAndGlyphs">0.69060</text>
<rect x="1421" y="291" width="2" height="1" fill="#000"/>
<text x="1426" y="295" font-size="9.8" fill="#000" stroke="#000" stroke-width="0.25" textLength="33.00" lengthAdjust="spacingAndGlyphs">0.68785</text>
<rect x="1421" y="324" width="2" height="1" fill="#000"/>
<text x="1426" y="328" font-size="9.8" fill="#000" stroke="#000" stroke-width="0.25" textLength="33.00" lengthAdjust="spacingAndGlyphs">0.68515</text>
<rect x="1421" y="357" width="2" height="1" fill="#000"/>
<text x="1426" y="361" font-size="9.8" fill="#000" stroke="#000" stroke-width="0.25" textLength="33.00" lengthAdjust="spacingAndGlyphs">0.68240</text>
<rect x="1421" y="390" width="2" height="1" fill="#000"/>
<text x="1426" y="394" font-size="9.8" fill="#000" stroke="#000" stroke-width="0.25" textLength="33.00" lengthAdjust="spacingAndGlyphs">0.67970</text>
<rect x="1421" y="423" width="2" height="1" fill="#000"/>
<text x="1426" y="427" font-size="9.8" fill="#000" stroke="#000" stroke-width="0.25" textLength="33.00" lengthAdjust="spacingAndGlyphs">0.67700</text>
<rect x="1421" y="456" width="2" height="1" fill="#000"/>
<text x="1426" y="460" font-size="9.8" fill="#000" stroke="#000" stroke-width="0.25" textLength="33.00" lengthAdjust="spacingAndGlyphs">0.67425</text>
<rect x="1421" y="489" width="2" height="1" fill="#000"/>
<text x="1426" y="493" font-size="9.8" fill="#000" stroke="#000" stroke-width="0.25" textLength="33.00" lengthAdjust="spacingAndGlyphs">0.67155</text>
<rect x="1421" y="522" width="2" height="1" fill="#000"/>
<text x="1426" y="526" font-size="9.8" fill="#000" stroke="#000" stroke-width="0.25" textLength="33.00" lengthAdjust="spacingAndGlyphs">0.66880</text>
<rect x="1421" y="555" width="2" height="1" fill="#000"/>
<text x="1426" y="559" font-size="9.8" fill="#000" stroke="#000" stroke-width="0.25" textLength="33.00" lengthAdjust="spacingAndGlyphs">0.66610</text>
<rect x="1422" y="139" width="41" height="11" fill="#ff0000"/>
<text x="1426" y="148" font-size="9.8" fill="#fff" stroke="#fff" stroke-width="0.1" textLength="33.00" lengthAdjust="spacingAndGlyphs">0.70002</text>
<rect x="1422" y="260" width="41" height="11" fill="#ff0000"/>
<text x="1426" y="269" font-size="9.8" fill="#fff" stroke="#fff" stroke-width="0.1" textLength="33.00" lengthAdjust="spacingAndGlyphs">0.69003</text>
<rect x="1422" y="381" width="41" height="11" fill="#00ff00"/>
<text x="1426" y="390" font-size="9.8" fill="#fff" stroke="#fff" stroke-width="0.1" textLength="33.00" lengthAdjust="spacingAndGlyphs">0.68006</text>
<rect x="1422" y="399" width="41" height="11" fill="#000000"/>
<text x="1426" y="408" font-size="9.8" fill="#fff" stroke="#fff" stroke-width="0.1" textLength="33.00" lengthAdjust="spacingAndGlyphs">0.67858</text>
<rect x="1422" y="539" width="41" height="11" fill="#0000ff"/>
<text x="1426" y="548" font-size="9.8" fill="#fff" stroke="#fff" stroke-width="0.1" textLength="33.00" lengthAdjust="spacingAndGlyphs">0.66705</text>
<rect x="1421" y="591" width="2" height="1" fill="#000"/>
<text x="1424.5" y="571" font-size="9.8" fill="#000" stroke="#000" stroke-width="0.25" textLength="37.50" lengthAdjust="spacingAndGlyphs">0.002574</text>
<text x="1424.5" y="595" font-size="9.8" fill="#000" stroke="#000" stroke-width="0.25" textLength="17.00" lengthAdjust="spacingAndGlyphs">0.00</text>
<text x="1424" y="660" font-size="9.8" fill="#000" stroke="#000" stroke-width="0.25" textLength="40.80" lengthAdjust="spacingAndGlyphs">-0.006326</text>
<rect x="1421" y="561" width="2" height="1" fill="#000"/>
<rect x="1421" y="662" width="2" height="1" fill="#000"/>
<text x="1424.5" y="676" font-size="9.8" fill="#000" stroke="#000" stroke-width="0.25" textLength="14.50" lengthAdjust="spacingAndGlyphs">100</text>
<text x="1423.5" y="709" font-size="9.8" fill="#000" stroke="#000" stroke-width="0.25" textLength="10.00" lengthAdjust="spacingAndGlyphs">70</text>
<text x="1423.5" y="760" font-size="9.8" fill="#000" stroke="#000" stroke-width="0.25" textLength="10.00" lengthAdjust="spacingAndGlyphs">30</text>
<text x="1423.7" y="792" font-size="9.8" fill="#000" stroke="#000" stroke-width="0.25" textLength="5.30" lengthAdjust="spacingAndGlyphs">0</text>
<rect x="1416" y="705" width="4" height="1" fill="#c0c0c0"/>
<rect x="1416" y="756" width="4" height="1" fill="#c0c0c0"/>
<rect x="1421" y="667" width="2" height="1" fill="#000"/>
<rect x="1421" y="794" width="2" height="1" fill="#000"/>
<rect x="5" y="796" width="1" height="3" fill="#000"/>
<text x="4.0" y="808" font-size="9.8" fill="#000" stroke="#000" stroke-width="0.25" textLength="49.80" lengthAdjust="spacingAndGlyphs">6 May 2019</text>
<rect x="69" y="796" width="1" height="3" fill="#000"/>
<text x="68.0" y="808" font-size="9.8" fill="#000" stroke="#000" stroke-width="0.25" textLength="54.10" lengthAdjust="spacingAndGlyphs">15 May 2019</text>
<rect x="133" y="796" width="1" height="3" fill="#000"/>
<text x="132.0" y="808" font-size="9.8" fill="#000" stroke="#000" stroke-width="0.25" textLength="54.10" lengthAdjust="spacingAndGlyphs">24 May 2019</text>
<rect x="197" y="796" width="1" height="3" fill="#000"/>
<text x="196.0" y="808" font-size="9.8" fill="#000" stroke="#000" stroke-width="0.25" textLength="45.90" lengthAdjust="spacingAndGlyphs">3 Jun 2019</text>
<rect x="261" y="796" width="1" height="3" fill="#000"/>
<text x="260.0" y="808" font-size="9.8" fill="#000" stroke="#000" stroke-width="0.25" textLength="50.20" lengthAdjust="spacingAndGlyphs">12 Jun 2019</text>
<rect x="325" y="796" width="1" height="3" fill="#000"/>
<text x="324.0" y="808" font-size="9.8" fill="#000" stroke="#000" stroke-width="0.25" textLength="50.20" lengthAdjust="spacingAndGlyphs">21 Jun 2019</text>
<rect x="389" y="796" width="1" height="3" fill="#000"/>
<text x="388.0" y="808" font-size="9.8" fill="#000" stroke="#000" stroke-width="0.25" textLength="41.50" lengthAdjust="spacingAndGlyphs">1 Jul 2019</text>
<rect x="453" y="796" width="1" height="3" fill="#000"/>
<text x="452.0" y="808" font-size="9.8" fill="#000" stroke="#000" stroke-width="0.25" textLength="46.90" lengthAdjust="spacingAndGlyphs">10 Jul 2019</text>
<rect x="517" y="796" width="1" height="3" fill="#000"/>
<text x="516.0" y="808" font-size="9.8" fill="#000" stroke="#000" stroke-width="0.25" textLength="46.40" lengthAdjust="spacingAndGlyphs">19 Jul 2019</text>
<rect x="581" y="796" width="1" height="3" fill="#000"/>
<text x="580.0" y="808" font-size="9.8" fill="#000" stroke="#000" stroke-width="0.25" textLength="46.80" lengthAdjust="spacingAndGlyphs">29 Jul 2019</text>
<rect x="645" y="796" width="1" height="3" fill="#000"/>
<text x="644.0" y="808" font-size="9.8" fill="#000" stroke="#000" stroke-width="0.25" textLength="48.30" lengthAdjust="spacingAndGlyphs">7 Aug 2019</text>
<rect x="709" y="796" width="1" height="3" fill="#000"/>
<text x="708.0" y="808" font-size="9.8" fill="#000" stroke="#000" stroke-width="0.25" textLength="52.70" lengthAdjust="spacingAndGlyphs">16 Aug 2019</text>
<rect x="773" y="796" width="1" height="3" fill="#000"/>
<text x="772.0" y="808" font-size="9.8" fill="#000" stroke="#000" stroke-width="0.25" textLength="52.70" lengthAdjust="spacingAndGlyphs">26 Aug 2019</text>
<rect x="837" y="796" width="1" height="3" fill="#000"/>
<text x="836.0" y="808" font-size="9.8" fill="#000" stroke="#000" stroke-width="0.25" textLength="47.10" lengthAdjust="spacingAndGlyphs">4 Sep 2019</text>
<rect x="901" y="796" width="1" height="3" fill="#000"/>
<text x="900.0" y="808" font-size="9.8" fill="#000" stroke="#000" stroke-width="0.25" textLength="52.20" lengthAdjust="spacingAndGlyphs">13 Sep 2019</text>
<rect x="965" y="796" width="1" height="3" fill="#000"/>
<text x="964.0" y="808" font-size="9.8" fill="#000" stroke="#000" stroke-width="0.25" textLength="51.90" lengthAdjust="spacingAndGlyphs">23 Sep 2019</text>
<rect x="1029" y="796" width="1" height="3" fill="#000"/>
<text x="1028.0" y="808" font-size="9.8" fill="#000" stroke="#000" stroke-width="0.25" textLength="46.20" lengthAdjust="spacingAndGlyphs">2 Oct 2019</text>
<rect x="1093" y="796" width="1" height="3" fill="#000"/>
<text x="1092.0" y="808" font-size="9.8" fill="#000" stroke="#000" stroke-width="0.25" textLength="51.00" lengthAdjust="spacingAndGlyphs">11 Oct 2019</text>
<rect x="0" y="817" width="1468" height="20" fill="#efefef"/>
<rect x="0" y="818" width="1468" height="1" fill="#000"/>
<rect x="0" y="817" width="1466" height="1" fill="#ffffff"/>
<rect x="2" y="819" width="1464" height="1" fill="#fafafa"/>
<rect x="0" y="837" width="1468" height="5" fill="#f8f8f8"/>
<rect x="0" y="842" width="1466" height="1" fill="#a0a0a0"/>
<rect x="0" y="819" width="2" height="18" fill="#808080"/>
<rect x="1466" y="819" width="1" height="18" fill="#e3e3e3"/>
<rect x="114" y="818" width="108" height="19" fill="#000"/>
<rect x="115" y="817" width="106" height="19" fill="#ffffff"/>
<text x="17" y="833" font-size="12.5" fill="#6e6e6e" textLength="85.00" lengthAdjust="spacingAndGlyphs">EURUSD-,Daily</text>
<text x="124.2" y="833" font-size="12.5" fill="#000" textLength="86.70" lengthAdjust="spacingAndGlyphs">AUDUSD-,Daily</text>
<text x="234.4" y="833" font-size="12.5" fill="#6e6e6e" textLength="84.00" lengthAdjust="spacingAndGlyphs">USDCHF-,Daily</text>
<text x="341.6" y="833" font-size="12.5" fill="#6e6e6e" textLength="85.20" lengthAdjust="spacingAndGlyphs">USDCAD-,Daily</text>
<text x="450.4" y="833" font-size="12.5" fill="#6e6e6e" textLength="87.30" lengthAdjust="spacingAndGlyphs">USDCNH-,Daily</text>
<text x="561.4" y="833" font-size="12.5" fill="#6e6e6e" textLength="96.40" lengthAdjust="spacingAndGlyphs">EURCHF-,Weekly</text>
<text x="682.3" y="833" font-size="12.5" fill="#6e6e6e" textLength="99.50" lengthAdjust="spacingAndGlyphs">XAUUSD-,Weekly</text>
<text x="805.1" y="833" font-size="12.5" fill="#6e6e6e" textLength="72.70" lengthAdjust="spacingAndGlyphs">GBPUSD-,H1</text>
<text x="901.4" y="833" font-size="12.5" fill="#6e6e6e" textLength="56.60" lengthAdjust="spacingAndGlyphs">UKOil-,H1</text>
<text x="980" y="833" font-size="12.5" fill="#6e6e6e" textLength="82.90" lengthAdjust="spacingAndGlyphs">USDX-,Weekly</text>
<text x="1084.3" y="833" font-size="12.5" fill="#6e6e6e" textLength="70.40" lengthAdjust="spacingAndGlyphs">EURCHF-,H1</text>
<text x="1178" y="833" font-size="12.5" fill="#6e6e6e" textLength="55.30" lengthAdjust="spacingAndGlyphs">USOil-,H1</text>
<rect x="331" y="822" width="1" height="14" fill="#808080"/>
<rect x="438" y="822" width="1" height="14" fill="#808080"/>
<rect x="551" y="822" width="1" height="14" fill="#808080"/>
<rect x="670" y="822" width="1" height="14" fill="#808080"/>
<rect x="794" y="822" width="1" height="14" fill="#808080"/>
<rect x="890" y="822" width="1" height="14" fill="#808080"/>
<rect x="971" y="822" width="1" height="14" fill="#808080"/>
<rect x="1075" y="822" width="1" height="14" fill="#808080"/>
<rect x="1167" y="822" width="1" height="14" fill="#808080"/>
<rect x="1246" y="822" width="1" height="14" fill="#808080"/>
<polygon points="1439,824 1439,831 1435.5,827.5" fill="#909090"/>
<polygon points="1455,824 1455,831 1458.5,827.5" fill="#909090"/>
</svg>
</body></html>
